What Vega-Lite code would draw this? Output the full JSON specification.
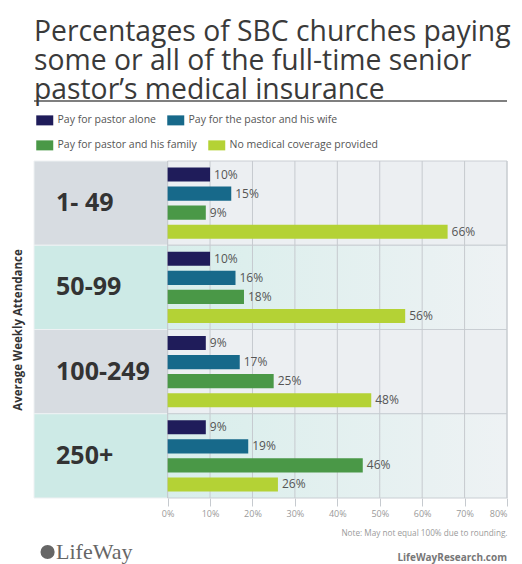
{
  "$schema": "https://vega.github.io/schema/vega-lite/v6.json",
  "background": "white",
  "padding": {"left": 12, "top": 17, "right": 10, "bottom": 0},
  "bounds": "flush",
  "spacing": 46,
  "config": {"font": "Open Sans", "view": {"stroke": null}},
  "resolve": {"scale": {"x": "independent", "y": "independent", "color": "independent"}, "legend": {"color": "independent"}},
  "datasets": {
    "bars": [
      {"group": "1- 49", "series": "Pay for pastor alone", "value": 10},
      {"group": "1- 49", "series": "Pay for the pastor and his wife", "value": 15},
      {"group": "1- 49", "series": "Pay for pastor and his family", "value": 9},
      {"group": "1- 49", "series": "No medical coverage provided", "value": 66},
      {"group": "50-99", "series": "Pay for pastor alone", "value": 10},
      {"group": "50-99", "series": "Pay for the pastor and his wife", "value": 16},
      {"group": "50-99", "series": "Pay for pastor and his family", "value": 18},
      {"group": "50-99", "series": "No medical coverage provided", "value": 56},
      {"group": "100-249", "series": "Pay for pastor alone", "value": 9},
      {"group": "100-249", "series": "Pay for the pastor and his wife", "value": 17},
      {"group": "100-249", "series": "Pay for pastor and his family", "value": 25},
      {"group": "100-249", "series": "No medical coverage provided", "value": 48},
      {"group": "250+", "series": "Pay for pastor alone", "value": 9},
      {"group": "250+", "series": "Pay for the pastor and his wife", "value": 19},
      {"group": "250+", "series": "Pay for pastor and his family", "value": 46},
      {"group": "250+", "series": "No medical coverage provided", "value": 26}
    ],
    "bands": [
      {"group": "1- 49", "kind": "grey"},
      {"group": "50-99", "kind": "teal"},
      {"group": "100-249", "kind": "grey"},
      {"group": "250+", "kind": "teal"}
    ],
    "ticks": [{"v": 0}, {"v": 10}, {"v": 20}, {"v": 30}, {"v": 40}, {"v": 50}, {"v": 60}, {"v": 70}, {"v": 80}]
  },
  "vconcat": [
    {
      "width": 473,
      "height": 14,
      "title": {
        "text": ["Percentages of SBC churches paying", "some or all of the full-time senior", "pastor’s medical insurance"],
        "anchor": "start",
        "frame": "group",
        "font": "Open Sans",
        "fontSize": 28.3,
        "fontWeight": "normal",
        "color": "#3a3a3a",
        "lineHeight": 29,
        "offset": -5
      },
      "data": {"values": [{"a": 1}]},
      "mark": {"type": "rule", "stroke": "#555555", "strokeWidth": 1.5},
      "encoding": {
        "y": {"datum": 1, "type": "quantitative", "scale": {"domain": [0, 1]}, "axis": null}
      }
    },
    {
      "width": 473,
      "height": 337,
      "resolve": {"scale": {"color": "independent"}, "legend": {"color": "independent"}},
      "encoding": {
        "y": {
          "field": "group", "type": "nominal",
          "sort": ["1- 49", "50-99", "100-249", "250+"],
          "scale": {"paddingInner": 0, "paddingOuter": 0},
          "axis": {"title": "Average Weekly Attendance", "labels": false, "ticks": false, "domain": false,
                   "titleFontSize": 11.5, "titleFontWeight": "bold", "titleColor": "#333333", "titlePadding": 11, "titleFont": "Open Sans"}
        }
      },
      "layer": [
        {
          "data": {"name": "bands"},
          "mark": {"type": "rect", "strokeWidth": 1, "stroke": "#eef1f3"},
          "encoding": {
            "x": {"datum": -31.5, "type": "quantitative", "scale": {"domain": [-31.5, 80], "nice": false, "zero": false},
                  "axis": {"values": [0, 10, 20, 30, 40, 50, 60, 70, 80], "labelExpr": "datum.value + '%'", "grid": false,
                           "ticks": true, "tickSize": 8, "tickColor": "#c6cacf", "domain": false,
                           "labelColor": "#9a9a9a", "labelFontSize": 9, "labelPadding": 3,
                           "title": "Note: May not equal 100% due to rounding.", "titleAnchor": "end", "titleFontSize": 8.2,
                           "titleFontWeight": "normal", "titleColor": "#9a9a9a", "titlePadding": 11}},
            "x2": {"datum": 0},
            "fill": {"condition": {"test": "datum.kind === 'teal'", "value": "#cdeae6"}, "value": "#d7dce1"}
          }
        },
        {
          "data": {"name": "bands"},
          "transform": [{"filter": "datum.kind === 'grey'"}],
          "mark": {"type": "rect", "stroke": "#c9ced3", "strokeWidth": 1, "fill": "#eceff2"},
          "encoding": {"x": {"datum": 0, "type": "quantitative"}, "x2": {"datum": 80}}
        },
        {
          "data": {"name": "bands"},
          "transform": [{"filter": "datum.kind === 'teal'"}],
          "mark": {"type": "rect", "stroke": "#c9ced3", "strokeWidth": 1,
                   "fill": {"gradient": "linear", "x1": 0, "y1": 0, "x2": 1, "y2": 0,
                            "stops": [{"offset": 0, "color": "#d8eeeb"}, {"offset": 1, "color": "#eef2f4"}]}},
          "encoding": {"x": {"datum": 0, "type": "quantitative"}, "x2": {"datum": 80}}
        },
        {
          "data": {"name": "ticks"},
          "mark": {"type": "rule", "stroke": "#c6cacf", "strokeWidth": 1},
          "encoding": {"x": {"field": "v", "type": "quantitative"}, "y": null}
        },
        {
          "data": {"name": "bars"},
          "transform": [{"filter": "datum.series === 'Pay for pastor alone' || datum.series === 'Pay for the pastor and his wife'"}],
          "mark": {"type": "bar"},
          "encoding": {
            "x": {"field": "value", "type": "quantitative"},
            "yOffset": {"field": "series", "type": "nominal",
                        "scale": {"domain": ["Pay for pastor alone", "Pay for the pastor and his wife", "Pay for pastor and his family", "No medical coverage provided"],
                                  "paddingInner": 0.26, "paddingOuter": 0.34}},
            "color": {"field": "series", "type": "nominal",
                      "scale": {"domain": ["Pay for pastor alone", "Pay for the pastor and his wife"],
                                "range": ["#1f1c5a", "#17698a"]},
                      "legend": {"title": null, "orient": "none", "legendX": 5.5, "legendY": -46, "direction": "horizontal",
                                 "columnPadding": 10, "symbolType": "M-1.7,-1H1.7V1H-1.7Z", "symbolSize": 100,
                                 "symbolStrokeWidth": 0, "labelFontSize": 10.5, "labelColor": "#555555", "labelFont": "Open Sans",
                                 "labelOffset": 7.5, "padding": 0}}
          }
        },
        {
          "data": {"name": "bars"},
          "transform": [{"filter": "datum.series === 'Pay for pastor and his family' || datum.series === 'No medical coverage provided'"}],
          "mark": {"type": "bar"},
          "encoding": {
            "x": {"field": "value", "type": "quantitative"},
            "yOffset": {"field": "series", "type": "nominal"},
            "color": {"field": "series", "type": "nominal",
                      "scale": {"domain": ["Pay for pastor and his family", "No medical coverage provided"],
                                "range": ["#4a9847", "#b4d235"]},
                      "legend": {"title": null, "orient": "none", "legendX": 5.5, "legendY": -21, "direction": "horizontal",
                                 "columnPadding": 10, "symbolType": "M-1.7,-1H1.7V1H-1.7Z", "symbolSize": 100,
                                 "symbolStrokeWidth": 0, "labelFontSize": 10.5, "labelColor": "#555555", "labelFont": "Open Sans",
                                 "labelOffset": 7.5, "padding": 0}}
          }
        },
        {
          "data": {"name": "bars"},
          "mark": {"type": "text", "align": "left", "baseline": "middle", "dx": 4, "fontSize": 12, "color": "#555555", "text": {"expr": "datum.value + '%'"}},
          "encoding": {
            "x": {"field": "value", "type": "quantitative"},
            "yOffset": {"field": "series", "type": "nominal"},
            "detail": {"field": "series"}
          }
        },
        {
          "data": {"name": "bands"},
          "mark": {"type": "text", "align": "left", "baseline": "middle", "fontSize": 25, "fontWeight": "bold", "color": "#333333", "font": "Open Sans"},
          "encoding": {
            "x": {"datum": -26.3, "type": "quantitative"},
            "text": {"field": "group"}
          }
        }
      ]
    },
    {
      "width": 473,
      "height": 20,
      "layer": [
        {
          "data": {"values": [{"t": "logo"}]},
          "mark": {"type": "point", "shape": "circle", "filled": true, "size": 200, "color": "#666666", "opacity": 1},
          "encoding": {
            "x": {"datum": -28.3, "type": "quantitative", "scale": {"domain": [-31.5, 80], "nice": false, "zero": false}, "axis": null},
            "y": {"datum": 0.6, "type": "quantitative", "scale": {"domain": [0, 1]}, "axis": null}
          }
        },
        {
          "data": {"values": [{"t": "LifeWay"}]},
          "mark": {"type": "text", "align": "left", "baseline": "middle", "font": "Liberation Serif", "fontSize": 22, "color": "#666666"},
          "encoding": {
            "x": {"datum": -26.3, "type": "quantitative"},
            "y": {"datum": 0.6, "type": "quantitative"},
            "text": {"field": "t"}
          }
        },
        {
          "data": {"values": [{"t": "LifeWayResearch.com"}]},
          "mark": {"type": "text", "align": "right", "baseline": "middle", "font": "Open Sans", "fontSize": 10, "fontWeight": "bold", "color": "#777777"},
          "encoding": {
            "x": {"datum": 80, "type": "quantitative"},
            "y": {"datum": 0.3, "type": "quantitative"},
            "text": {"field": "t"}
          }
        }
      ]
    }
  ]
}
